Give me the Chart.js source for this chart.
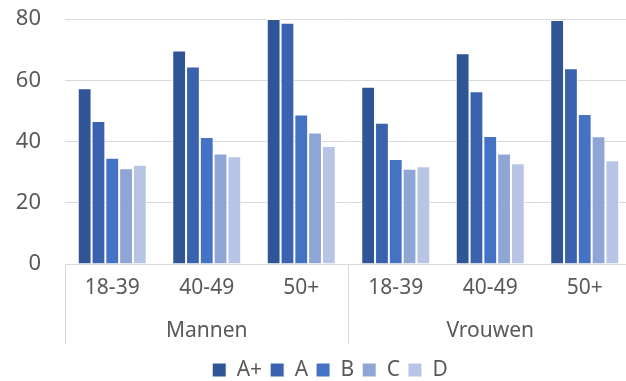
<!DOCTYPE html>
<html>
<head>
<meta charset="utf-8">
<script src="https://cdn.jsdelivr.net/npm/chart.js@4/dist/chart.umd.min.js"></script>
<style>
  html, body { margin: 0; padding: 0; background: #ffffff; overflow: hidden; width: 626px; height: 381px; }
  canvas { display: block; }
</style>
</head>
<body>
<canvas id="c" width="640" height="381"></canvas>
<script>
const ageLabels = ["18-39", "40-49", "50+", "18-39", "40-49", "50+"];
const groupLabels = ["Mannen", "Vrouwen"];
const seriesNames = ["A+", "A", "B", "C", "D"];
const valuesAPlus = [57.4, 69.7, 80.0, 57.9, 68.8, 79.7];
const valuesA     = [46.7, 64.5, 78.8, 46.1, 56.4, 63.9];
const valuesB     = [34.7, 41.5, 48.8, 34.3, 41.8, 49.0];
const valuesC     = [31.3, 36.1, 42.9, 31.1, 36.1, 41.7];
const valuesD     = [32.4, 35.2, 38.5, 31.9, 32.9, 33.9];
const yTicks = [0, 20, 40, 60, 80];

const colors = ["#2F5597", "#3A62AE", "#4472C4", "#8FA5D6", "#B8C4E5"];
const seriesValues = [valuesAPlus, valuesA, valuesB, valuesC, valuesD];
const FONT = "'Noto Sans', sans-serif";
const TXT = "#595959";
const GRID = "#d9d9d9";

const datasets = seriesNames.map((name, i) => ({
  label: name,
  data: seriesValues[i],
  backgroundColor: colors[i],
  borderColor: "#ffffff",
  borderWidth: 1,
  borderSkipped: "start",
  categoryPercentage: 0.73,
  barPercentage: 1.0
}));

const legendShift = {
  id: "legendShift",
  afterLayout(chart) {
    const l = chart.legend;
    if (l) { l.left += 8; l.right += 8; }
  }
};

new Chart(document.getElementById("c"), {
  type: "bar",
  data: { labels: ageLabels, datasets },
  plugins: [legendShift],
  options: {
    responsive: false,
    animation: false,
    layout: { padding: { top: 19, left: 12, right: 8, bottom: -9.5 } },
    plugins: {
      tooltip: { enabled: false },
      legend: {
        position: "bottom",
        labels: {
          boxWidth: 14, boxHeight: 14, padding: 8,
          color: TXT,
          font: { family: FONT, size: 21 }
        }
      }
    },
    scales: {
      x: {
        type: "category",
        position: "bottom",
        weight: 0,
        offset: true,
        grid: {
          display: true,
          drawOnChartArea: false,
          drawTicks: true,
          tickLength: 80,
          offset: true,
          lineWidth: 1,
          color: (ctx) => (ctx.index === undefined || ctx.type !== "tick" || ctx.index % 3 === 0) ? GRID : "rgba(0,0,0,0)"
        },
        border: { display: true, color: GRID, width: 1 },
        ticks: {
          padding: -69,
          color: TXT,
          font: { family: FONT, size: 21 },
          maxRotation: 0, autoSkip: false
        },
        afterFit: (s) => { s.height = 52; }
      },
      x2: {
        type: "category",
        labels: groupLabels,
        position: "bottom",
        weight: 1,
        offset: true,
        grid: { display: false },
        border: { display: false },
        ticks: {
          padding: -6,
          color: TXT,
          font: { family: FONT, size: 21 },
          maxRotation: 0, autoSkip: false
        },
        afterFit: (s) => { s.height = 35.5; }
      },
      y: {
        min: 0, max: 80,
        afterBuildTicks: (s) => { s.ticks = yTicks.map(v => ({ value: v })); },
        grid: { color: GRID, lineWidth: 1, drawTicks: true, tickLength: 24, tickColor: "rgba(0,0,0,0)" },
        border: { display: false },
        ticks: {
          padding: 0,
          color: TXT,
          font: { family: FONT, size: 22 }
        },
        afterFit: (s) => { s.width = 53; }
      }
    }
  }
});
</script>
</body>
</html>
